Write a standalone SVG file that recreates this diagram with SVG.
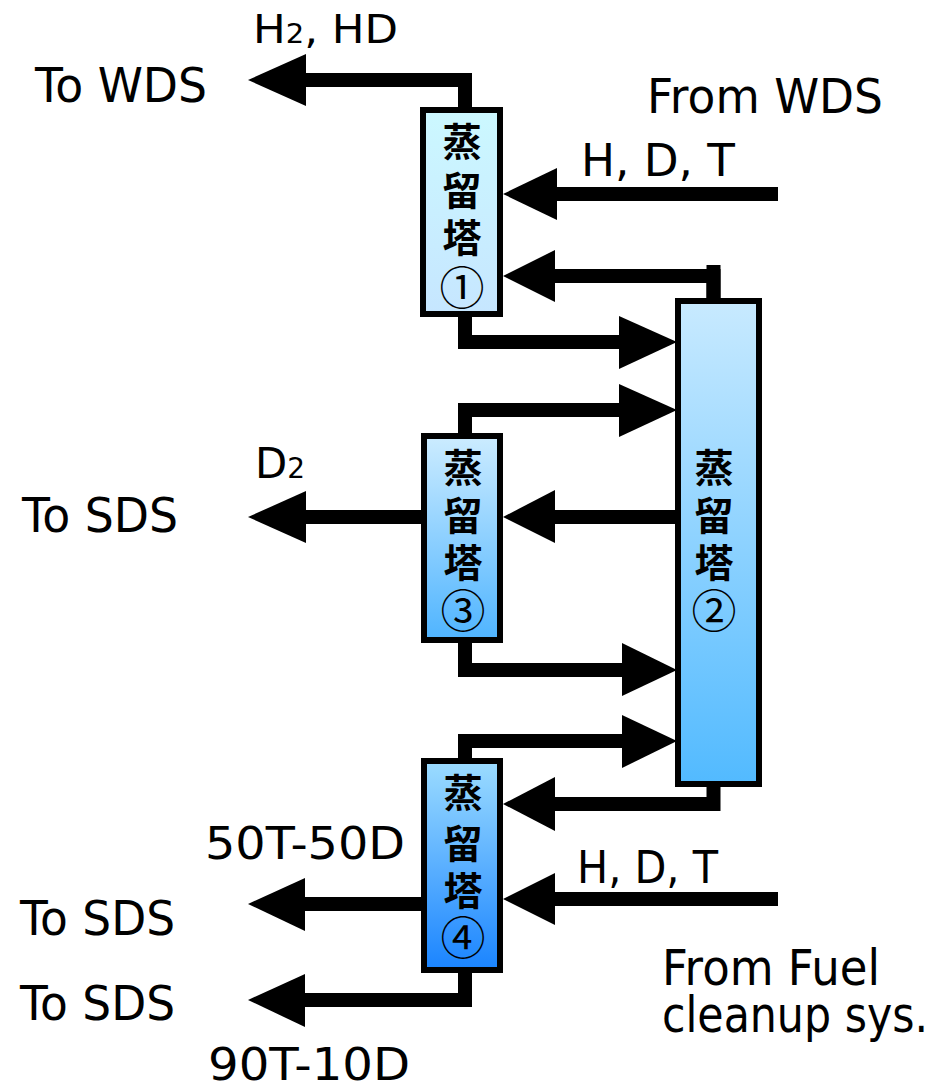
<svg xmlns="http://www.w3.org/2000/svg" width="944" height="1089" viewBox="0 0 944 1089">
<style>
.lbl{font-family:"DejaVu Sans","Liberation Sans",sans-serif;fill:#000}
.cjk{font-family:"Noto Sans CJK JP","Noto Sans CJK SC",sans-serif;font-size:39px;font-weight:700;text-anchor:middle;dominant-baseline:central;fill:#000}
.num{font-size:45px;font-weight:400}
.box{stroke:#000;stroke-width:6}
.ln{fill:none;stroke:#000;stroke-width:14;stroke-linejoin:miter;stroke-linecap:butt}
.hd{fill:#000}
</style>
<defs>
<linearGradient id="g1" x1="0" y1="0" x2="0" y2="1"><stop offset="0" stop-color="#ccf8ff"/><stop offset="1" stop-color="#c6e6ff"/></linearGradient>
<linearGradient id="g2" x1="0" y1="0" x2="0" y2="1"><stop offset="0" stop-color="#c8eaff"/><stop offset="1" stop-color="#52baff"/></linearGradient>
<linearGradient id="g3" x1="0" y1="0" x2="0" y2="1"><stop offset="0" stop-color="#ccecff"/><stop offset="1" stop-color="#4fb4ff"/></linearGradient>
<linearGradient id="g4" x1="0" y1="0" x2="0" y2="1"><stop offset="0" stop-color="#9cdcff"/><stop offset="1" stop-color="#1a84ff"/></linearGradient>
</defs>

<g id="connectors">
<path class="ln" d="M465,110 V80 H300"/><polygon class="hd" points="248,80 306,54 306,106"/>
<path class="ln" d="M778,194 H550"/><polygon class="hd" points="503,194 557,168 557,220"/>
<path class="ln" d="M713.5,300 V276 H550"/><rect x="706.5" y="265" width="14" height="36" class="hd"/><polygon class="hd" points="503,276 555,250 555,302"/>
<path class="ln" d="M465,314 V342 H625"/><polygon class="hd" points="677,342 619,316 619,369"/>
<path class="ln" d="M465,436 V410 H625"/><polygon class="hd" points="677,410 619,384 619,437"/>
<path class="ln" d="M678,517 H550"/><polygon class="hd" points="503,517 555,490 555,543"/>
<path class="ln" d="M424,517 H300"/><polygon class="hd" points="248,517 306,491 306,543"/>
<path class="ln" d="M465,640 V670 H625"/><polygon class="hd" points="677,670 622,643 622,696"/>
<path class="ln" d="M465,761 V741 H625"/><polygon class="hd" points="677,741 622,715 622,768"/>
<path class="ln" d="M713.5,784 V804 H550"/><polygon class="hd" points="503,804 555,777 555,831"/>
<path class="ln" d="M778,899 H550"/><polygon class="hd" points="503,899 555,873 555,925"/>
<path class="ln" d="M424,904 H300"/><polygon class="hd" points="248,904 305,878 305,931"/>
<path class="ln" d="M465,970 V1000 H300"/><polygon class="hd" points="248,1000 305,974 305,1027"/>
</g>

<g id="column1">
<rect class="box" x="423" y="110" width="77" height="204" fill="url(#g1)"/>
<text class="cjk" x="462" y="139">蒸</text>
<text class="cjk" x="462" y="188">留</text>
<text class="cjk" x="462" y="235">塔</text>
<text class="cjk num" x="462" y="285">①</text>
</g>

<g id="column2">
<rect class="box" x="678" y="301" width="81" height="483" fill="url(#g2)"/>
<text class="cjk" x="714" y="465">蒸</text>
<text class="cjk" x="714" y="513">留</text>
<text class="cjk" x="714" y="560">塔</text>
<text class="cjk num" x="714" y="608">②</text>
</g>

<g id="column3">
<rect class="box" x="424" y="436" width="76" height="204" fill="url(#g3)"/>
<text class="cjk" x="463" y="465">蒸</text>
<text class="cjk" x="463" y="513">留</text>
<text class="cjk" x="463" y="560">塔</text>
<text class="cjk num" x="463" y="608">③</text>
</g>

<g id="column4">
<rect class="box" x="424" y="761" width="76" height="209" fill="url(#g4)"/>
<text class="cjk" x="463" y="790">蒸</text>
<text class="cjk" x="463" y="841">留</text>
<text class="cjk" x="463" y="888">塔</text>
<text class="cjk num" x="463" y="935">④</text>
</g>

<g id="labels">
<text class="lbl" x="253" y="43" font-size="39" textLength="145" lengthAdjust="spacingAndGlyphs">H<tspan font-size="26">2</tspan>, HD</text>
<text class="lbl" x="35" y="102" font-size="48" textLength="172" lengthAdjust="spacingAndGlyphs">To WDS</text>
<text class="lbl" x="647" y="113" font-size="48" textLength="236" lengthAdjust="spacingAndGlyphs">From WDS</text>
<text class="lbl" x="581" y="176" font-size="45" textLength="154" lengthAdjust="spacingAndGlyphs">H, D, T</text>
<text class="lbl" x="255" y="478" font-size="42" textLength="50" lengthAdjust="spacingAndGlyphs">D<tspan font-size="28">2</tspan></text>
<text class="lbl" x="22" y="532" font-size="48" textLength="156" lengthAdjust="spacingAndGlyphs">To SDS</text>
<text class="lbl" x="205" y="859" font-size="44" textLength="200" lengthAdjust="spacingAndGlyphs">50T-50D</text>
<text class="lbl" x="577" y="883" font-size="44" textLength="141" lengthAdjust="spacingAndGlyphs">H, D, T</text>
<text class="lbl" x="20" y="935" font-size="48" textLength="155" lengthAdjust="spacingAndGlyphs">To SDS</text>
<text class="lbl" x="662" y="985" font-size="50" textLength="218" lengthAdjust="spacingAndGlyphs">From Fuel</text>
<text class="lbl" x="20" y="1020" font-size="48" textLength="155" lengthAdjust="spacingAndGlyphs">To SDS</text>
<text class="lbl" x="662" y="1032" font-size="50" textLength="266" lengthAdjust="spacingAndGlyphs">cleanup sys.</text>
<text class="lbl" x="208" y="1080" font-size="45" textLength="202" lengthAdjust="spacingAndGlyphs">90T-10D</text>
</g>
</svg>
